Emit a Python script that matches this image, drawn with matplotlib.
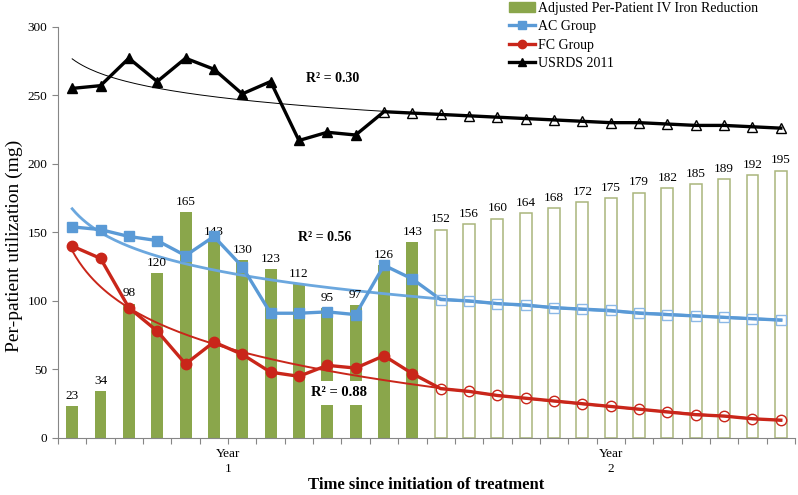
import numpy as np
import matplotlib.pyplot as plt
from matplotlib.lines import Line2D
from matplotlib.patches import Patch

plt.rcParams['font.family'] = ['Liberation Serif', 'DejaVu Serif']

# months since start of treatment (1..26)
months = np.arange(1, 27)

# adjusted per-patient IV iron reduction: first 13 observed, rest projected
iron_reduction = [23, 34, 98, 120, 165, 143, 130, 123, 112, 95, 97, 126, 143,
                  152, 156, 160, 164, 168, 172, 175, 179, 182, 185, 189, 192, 195]
n_observed_bars = 13

# AC group (observed months 1-13, projected 14-26)
ac_observed = [154, 152, 147, 144, 133, 147, 125, 91, 91, 92, 90, 126, 116]
ac_projected = [101, 100, 98, 97, 95, 94, 93, 91, 90, 89, 88, 87, 86]

# FC group
fc_observed = [140, 131, 95, 78, 54, 70, 61, 48, 45, 53, 51, 60, 47]
fc_projected = [36, 34, 31, 29, 27, 25, 23, 21, 19, 17, 16, 14, 13]

# USRDS 2011 (observed months 1-11, projected 12-26)
usrds_observed = [255, 257, 277, 260, 277, 269, 251, 260, 217, 223, 221]
usrds_projected = [238, 237, 236, 235, 234, 233, 232, 231, 230, 230, 229, 228, 228, 227, 226]

r2_labels = ['R² = 0.30', 'R² = 0.56', 'R² = 0.88']

GREEN = '#8aa64b'
GREEN_EDGE = '#aab57c'
BLUE = '#5a9ad6'
BLUE_TREND = '#6ba7de'
RED = '#c9261a'
GREY = '#868686'

fig = plt.figure(figsize=(7.98, 4.95), dpi=100)
ax = fig.add_axes([58 / 798, 1 - 438 / 495, (795 - 58) / 798, (438 - 26.7) / 495])

# bars
x_bar = months - 1
obs = ax.bar(x_bar[:n_observed_bars], iron_reduction[:n_observed_bars], width=0.42,
             color=GREEN, zorder=1)
proj = ax.bar(x_bar[n_observed_bars:], iron_reduction[n_observed_bars:], width=0.42,
              facecolor='white', edgecolor=GREEN_EDGE, linewidth=1.1, zorder=1)
ax.bar_label(obs, padding=3, fontsize=9.5)
ax.bar_label(proj, padding=3, fontsize=9.5)


def log_trend(x_pts, y_pts):
    # logarithmic trendline, fitted like excel does
    b, a = np.polyfit(np.log(x_pts), y_pts, 1)
    xs = np.linspace(1, 26, 200)
    return xs - 1, a + b * np.log(xs)


def draw_series(observed, projected, color, marker, ms, trend_color, trend_lw, proj_edge):
    n = len(observed)
    values = list(observed) + list(projected)
    tx, ty = log_trend(months[n:], projected)
    ax.plot(tx, ty, color=trend_color, lw=trend_lw, zorder=2)
    ax.plot(x_bar, values, color=color, lw=2.4, zorder=3)
    ax.plot(x_bar[:n], observed, ls='none', marker=marker, ms=ms, color=color, zorder=4)
    ax.plot(x_bar[n:], projected, ls='none', marker=marker, ms=ms, mfc='none',
            mec=proj_edge, mew=1.0, zorder=4)


draw_series(usrds_observed, usrds_projected, 'black', '^', 7.5, 'black', 0.7, 'black')
draw_series(ac_observed, ac_projected, BLUE, 's', 7.5, BLUE_TREND, 2.0, '#8bb8e6')
draw_series(fc_observed, fc_projected, RED, 'o', 7.5, RED, 1.4, RED)

# R² labels
ax.text(9.2, 262, r2_labels[0], fontsize=10, fontweight='bold', ha='center', va='center', zorder=5)
ax.text(8.9, 146.5, r2_labels[1], fontsize=10, fontweight='bold', ha='center', va='center',
        bbox=dict(facecolor='white', edgecolor='none', pad=2), zorder=5)
ax.text(9.4, 33, r2_labels[2], fontsize=10.5, fontweight='bold', ha='center', va='center',
        bbox=dict(facecolor='white', edgecolor='none', pad=4), zorder=5)

ax.set_xlim(-0.5, 25.5)
ax.set_ylim(0, 300)
ax.set_yticks(np.arange(0, 301, 50))
ax.set_xticks(np.arange(-0.5, 26, 1))
ax.set_xticklabels([])
ax.tick_params(axis='both', length=4, color=GREY, labelsize=9.5)
for s in ['top', 'right']:
    ax.spines[s].set_visible(False)
for s in ['left', 'bottom']:
    ax.spines[s].set_color(GREY)

# year group labels
ax.text(5.5, -0.025, 'Year\n1', transform=ax.get_xaxis_transform(), ha='center', va='top',
        fontsize=9.5, linespacing=1.3)
ax.text(19, -0.025, 'Year\n2', transform=ax.get_xaxis_transform(), ha='center', va='top',
        fontsize=9.5, linespacing=1.3)

fig.text(426 / 798, 1 - 485 / 495, 'Time since initiation of treatment', ha='center', va='center',
         fontsize=12, fontweight='bold')
fig.text(14 / 798, 1 - 246 / 495, 'Per-patient utilization (mg)', rotation=90, ha='center',
         va='center', fontsize=14)

handles = [Patch(color=GREEN),
           Line2D([], [], color=BLUE, lw=2.4, marker='s', ms=6),
           Line2D([], [], color=RED, lw=2.4, marker='o', ms=6),
           Line2D([], [], color='black', lw=2.4, marker='^', ms=6)]
labels = ['Adjusted Per-Patient IV Iron Reduction', 'AC Group', 'FC Group', 'USRDS 2011']
fig.legend(handles, labels, loc='upper left', bbox_to_anchor=(509 / 798, 1 - 2 / 495), frameon=False,
           fontsize=10, borderpad=0, borderaxespad=0, handlelength=1.9, handletextpad=0.2,
           labelspacing=0.38)

fig.savefig('out.png', dpi=100)
